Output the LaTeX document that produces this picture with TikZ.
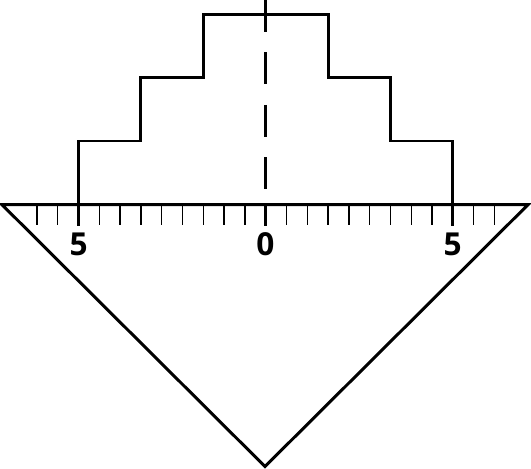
\documentclass[tikz,border=0pt]{standalone}
\usepackage{fontspec}
\setsansfont{Open Sans}
\usetikzlibrary{positioning}
\tikzset{
  edge/.style={line width=1.7pt, line join=miter},
  minortick/.style={line width=0.85pt},
  majortick/.style={line width=1.7pt},
  scalelabel/.style={font=\sffamily\bfseries\fontsize{18}{20}\selectfont, inner sep=0pt}
}

\begin{document}
\begin{tikzpicture}[x=0.02cm, y=-0.02cm]
          \useasboundingbox (0,0) rectangle (531,469);
          % set square
          \draw[edge] (2,204.7) -- (528,204.7) -- (265,466.5) -- cycle;
          % scale ticks
          \foreach \i in {-11,...,11} {
            \draw[minortick] (265.7+20.8*\i,204.7) -- (265.7+20.8*\i,225.5);
          }
          \foreach \i in {-9,0,9} {
            \draw[majortick] (265.7+20.8*\i,204.7) -- (265.7+20.8*\i,225.8);
          }
          \node[scalelabel] (left) at (78.7,244.5) {5};
          \node[scalelabel] (zero) at (265.5,244.5) {0};
          \node[scalelabel] (right) at (452.7,244.5) {5};
          % stepped profile
          \draw[edge] (78.5,204.7) -- (78.5,141) -- (140.9,141) -- (140.9,77.3)
             -- (203.3,77.3) -- (203.3,14.7) -- (328.1,14.7) -- (328.1,77.3)
             -- (390.5,77.3) -- (390.5,141) -- (452.9,141) -- (452.9,204.7);
          % centre line
          \draw[edge, dash pattern=on 0.64cm off 0.41cm] (265.7,0) -- (265.7,204.7);
        \end{tikzpicture}
\end{document}
